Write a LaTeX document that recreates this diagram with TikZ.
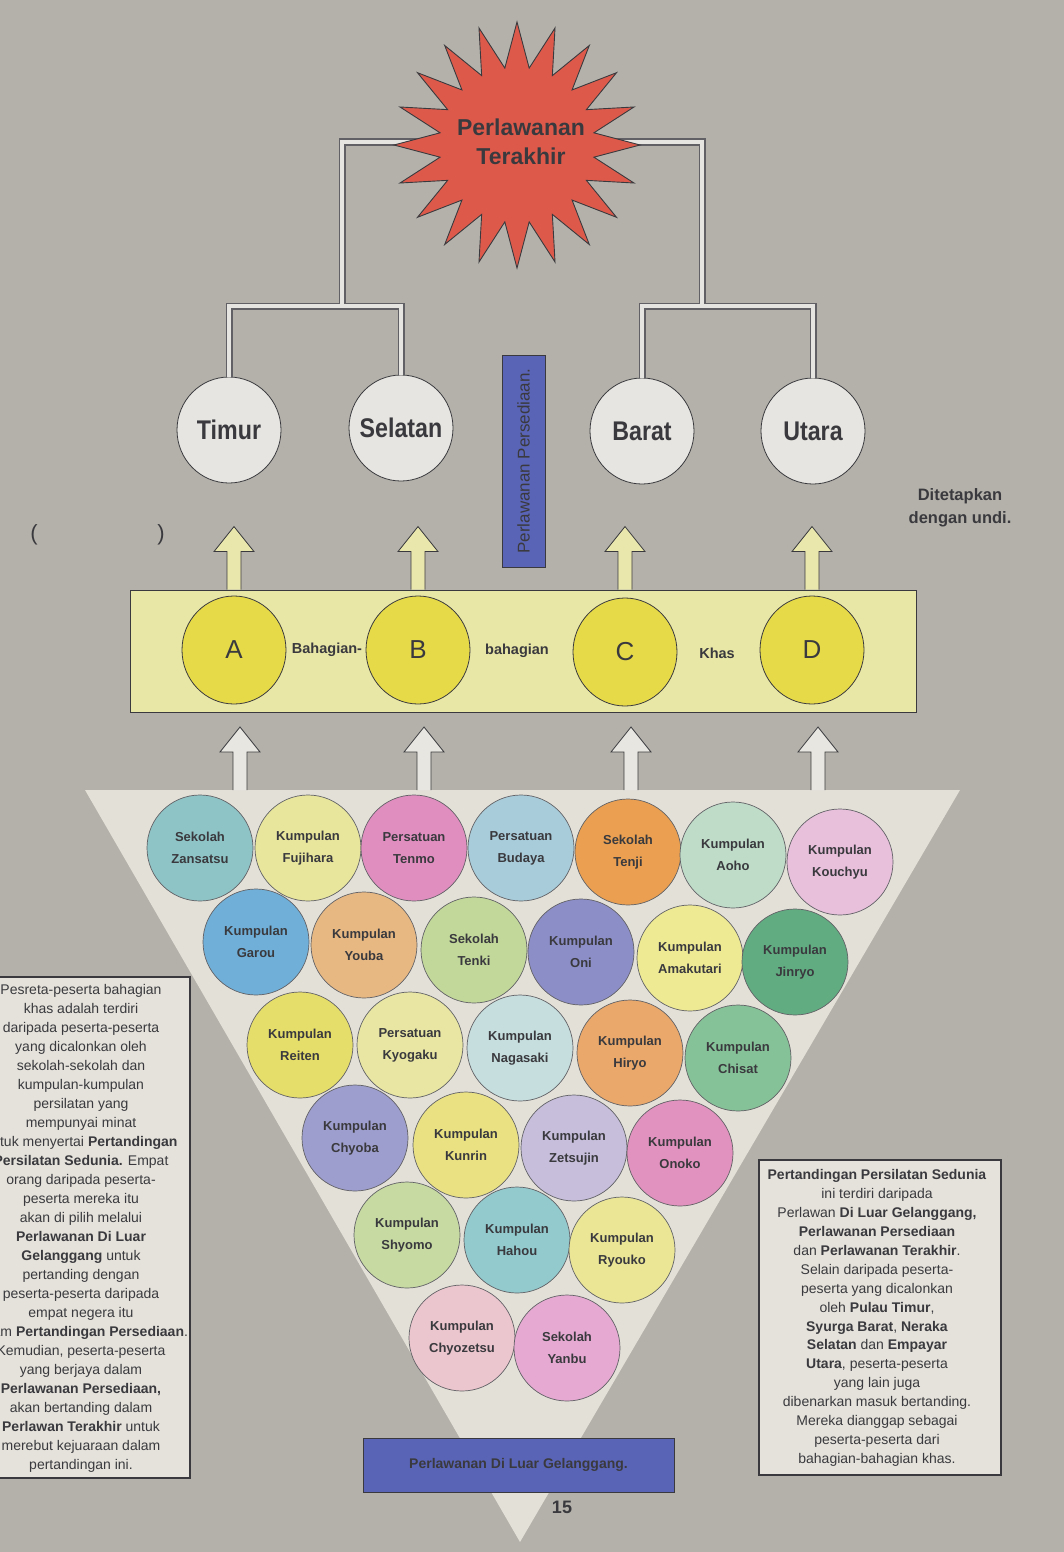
\documentclass[tikz,border=0pt]{standalone}
\usepackage{fontspec}
\setmainfont{Liberation Sans}
\usetikzlibrary{calc}
\usetikzlibrary{shapes.geometric}

\definecolor{pagegrey}{HTML}{B4B1AA}
\definecolor{funnel}{HTML}{E3E0D8}
\definecolor{regionwhite}{HTML}{E7E5E1}
\definecolor{barpale}{HTML}{E9E7A6}
\definecolor{divyellow}{HTML}{E6DA48}
\definecolor{arrowpale}{HTML}{E9E7AC}
\definecolor{arrowwhite}{HTML}{E8E6E0}
\definecolor{roundblue}{HTML}{5A64B6}
\definecolor{burstred}{HTML}{DD5A4B}
\definecolor{notepaper}{HTML}{E5E2DB}
\definecolor{ink}{HTML}{3A3A3E}

\begin{document}
\begin{tikzpicture}[x=1pt,y=-1pt,
  region/.style={ellipse, draw=ink, line width=0.8pt, fill=regionwhite, minimum width=104pt, minimum height=106pt, inner sep=0pt,
    label={[text=ink, font=\fontsize{27}{30}\selectfont\bfseries]center:\scalebox{0.86}[1]{#1}}},
  division/.style={ellipse, draw=ink, line width=0.8pt, fill=divyellow, minimum width=104pt, minimum height=108pt, inner sep=0pt, text=ink, font=\fontsize{26}{30}\selectfont},
  club/.style={circle, draw=ink!80, line width=0.7pt, minimum size=106pt, inner sep=0pt, align=center, text=ink, font=\fontsize{13}{22}\selectfont\bfseries},
  bracketedge/.style={draw=ink!80, line width=7pt},
  bracketcore/.style={draw=regionwhite, line width=4.4pt},
  uparrow/.style={fill=arrowpale, draw=ink, line width=0.8pt, line join=miter},
  lowarrow/.style={fill=arrowwhite, draw=ink, line width=0.8pt, line join=miter},
  roundbar/.style={fill=roundblue, draw=ink, line width=1pt, inner sep=0pt, text=ink},
  note/.style={align=center, text=ink, font=\fontsize{14}{19}\selectfont},
  barword/.style={text=ink, font=\fontsize{14.5}{17}\selectfont\bfseries}]

\useasboundingbox (0,0) rectangle (1064,1552);
\fill[pagegrey] (0,0) rectangle (1064,1552);

% the funnel of schools and groups
\coordinate (trileft) at (85,790);
\coordinate (triright) at (960,790);
\coordinate (triapex) at (520,1542);
\fill[funnel] (trileft) -- (triright) -- (triapex) -- cycle;

% the special divisions
\node[fill=barpale, draw=ink, line width=0.9pt, minimum width=786pt, minimum height=122pt] (bar) at (523,651) {};
\node[division] (divA) at (234,650) {A};
\node[division] (divB) at (418,650) {B};
\node[division] (divC) at (625,652) {C};
\node[division] (divD) at (812,650) {D};
\node[barword] (w1) at (327,650) {Bahagian-};
\node[barword] (w2) at (517,651) {bahagian};
\node[barword] (w3) at (717,653) {Khas};

\foreach \d in {divA,divB,divC,divD}{
  \draw[uparrow] ($(\d |- bar.north)+(-7,0)$) -- ++(0,-38) -- ++(-13,0) -- ++(20,-25) -- ++(20,25) -- ++(-13,0) -- ++(0,38);
  \draw[lowarrow] ($(\d |- trileft)+(-1,0)$) -- ++(0,-38) -- ++(-13,0) -- ++(20,-25) -- ++(20,25) -- ++(-13,0) -- ++(0,38);
}

% the four countries
\node[region=Timur] (timur) at (229,430) {};
\node[region=Selatan] (selatan) at (401,428) {};
\node[region=Barat] (barat) at (642,431) {};
\node[region=Utara] (utara) at (813,431) {};

\coordinate (top) at (517,142);
\coordinate (lsplit) at (342,306);
\coordinate (rsplit) at (702,306);
\foreach \pass in {bracketedge,bracketcore}{
  \draw[\pass] (top) -| (lsplit);
  \draw[\pass] (top) -| (rsplit);
  \draw[\pass] (timur.north) |- (lsplit) -| (selatan.north);
  \draw[\pass] (barat.north) |- (rsplit) -| (utara.north);
}

\node[star, star points=20, star point ratio=1.58, minimum size=246pt, inner sep=0pt, fill=burstred, draw=ink, line width=0.9pt] (final) at (517,145) {};
\node[align=center, text=ink, font=\fontsize{23}{29}\selectfont\bfseries] (finaltext) at (521,142) {Perlawanan\\Terakhir};

\node[roundbar, rotate=90, minimum width=212pt, minimum height=43pt, font=\fontsize{17}{20}\selectfont] (prep) at (523.5,461) {Perlawanan Persediaan.};
\node[align=center, text=ink, font=\fontsize{16.5}{23}\selectfont\bfseries] (undi) at (960,508) {Ditetapkan\\dengan undi.};
\node[text=ink, font=\fontsize{22}{24}\selectfont] (lpar) at (34,535) {(};
\node[text=ink, font=\fontsize{22}{24}\selectfont] (rpar) at (161,535) {)};

% the entrants
\foreach \cx/\cy/\hex/\la/\lb [count=\i] in {
  200/848/8EC4C6/Sekolah/Zansatsu, 308/848/E8E69C/Kumpulan/Fujihara,
  414/848/E08EC0/Persatuan/Tenmo, 521/848/A8CCDA/Persatuan/Budaya,
  628/852/EAA050/Sekolah/Tenji, 733/855/BEDCC8/Kumpulan/Aoho,
  840/862/E8C0DC/Kumpulan/Kouchyu,
  256/942/70B0D8/Kumpulan/Garou, 364/945/E8B882/Kumpulan/Youba,
  474/950/C2D89A/Sekolah/Tenki, 581/952/8C8EC8/Kumpulan/Oni,
  690/958/EEEA94/Kumpulan/Amakutari, 795/962/62AC82/Kumpulan/Jinryo,
  300/1045/E6DE6A/Kumpulan/Reiten, 410/1045/E8E6A2/Persatuan/Kyogaku,
  520/1048/C6DEDE/Kumpulan/Nagasaki, 630/1053/EAA86A/Kumpulan/Hiryo,
  738/1058/86C298/Kumpulan/Chisat,
  355/1138/9E9ECE/Kumpulan/Chyoba, 466/1145/EAE282/Kumpulan/Kunrin,
  574/1148/C6BEDA/Kumpulan/Zetsujin, 680/1153/E292BE/Kumpulan/Onoko,
  407/1235/C6DAA2/Kumpulan/Shyomo, 517/1240/92CACE/Kumpulan/Hahou,
  622/1250/EAE696/Kumpulan/Ryouko,
  462/1338/ECC6CE/Kumpulan/Chyozetsu, 567/1348/E6AAD2/Sekolah/Yanbu}{
  \definecolor{clubcol}{HTML}{\hex}
  \node[club, fill=clubcol] (c\i) at (\cx,\cy) {\la\\\lb};
}

\node[roundbar, minimum width=311pt, minimum height=54pt, font=\fontsize{14}{17}\selectfont\bfseries] (outside) at (518.5,1465) {Perlawanan Di Luar Gelanggang.};
\node[text=ink, font=\fontsize{18}{20}\selectfont\bfseries] (page) at (562,1507) {15};

% the two notes
\filldraw[fill=notepaper, draw=ink, line width=1.6pt] (-5,977) rectangle (190,1478);
\node[note] (leftnote) at (81,1228) {Pesreta-peserta bahagian\\
khas adalah terdiri\\
daripada peserta-peserta\\
yang dicalonkan oleh\\
sekolah-sekolah dan\\
kumpulan-kumpulan\\
persilatan yang\\
mempunyai minat\\
untuk menyertai \textbf{Pertandingan}\\
\textbf{Persilatan Sedunia.} Empat\\
orang daripada peserta-\\
peserta mereka itu\\
akan di pilih melalui\\
\textbf{Perlawanan Di Luar}\\
\textbf{Gelanggang} untuk\\
pertanding dengan\\
peserta-peserta daripada\\
empat negera itu\\
dalam \textbf{Pertandingan Persediaan}.\\
Kemudian, peserta-peserta\\
yang berjaya dalam\\
\textbf{Perlawanan Persediaan,}\\
akan bertanding dalam\\
\textbf{Perlawan Terakhir} untuk\\
merebut kejuaraan dalam\\
pertandingan ini.};

\filldraw[fill=notepaper, draw=ink, line width=1.6pt] (759,1160) rectangle (1001,1475);
\node[note, font=\fontsize{14}{18.9}\selectfont] (rightnote) at (877,1318) {\textbf{Pertandingan Persilatan Sedunia}\\
ini terdiri daripada\\
Perlawan \textbf{Di Luar Gelanggang,}\\
\textbf{Perlawanan Persediaan}\\
dan \textbf{Perlawanan Terakhir}.\\
Selain daripada peserta-\\
peserta yang dicalonkan\\
oleh \textbf{Pulau Timur},\\
\textbf{Syurga Barat}, \textbf{Neraka}\\
\textbf{Selatan} dan \textbf{Empayar}\\
\textbf{Utara}, peserta-peserta\\
yang lain juga\\
dibenarkan masuk bertanding.\\
Mereka dianggap sebagai\\
peserta-peserta dari\\
bahagian-bahagian khas.};

\end{tikzpicture}
\end{document}
